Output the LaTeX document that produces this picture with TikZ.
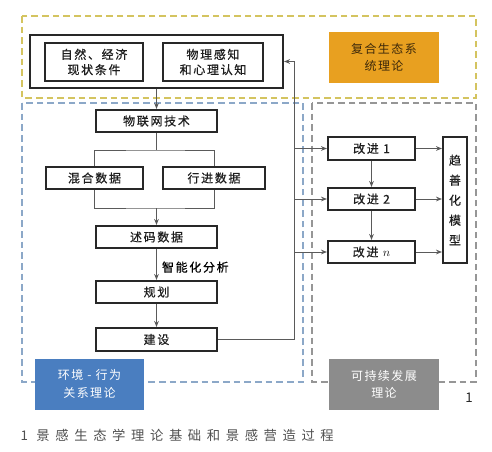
\documentclass[tikz,border=0pt]{standalone}
\usepackage{fontspec}
\setmainfont{Noto Sans CJK SC}
\usetikzlibrary{arrows.meta}

\tikzset{every picture/.style={line width=0.75pt}}
\tikzset{
  databox/.style={draw={rgb,255:red,40;green,40;blue,40}, line width=1.5pt, inner sep=0.75pt, align=center, text={rgb,255:red,30;green,30;blue,30}, font=\fontsize{9}{11.5}\selectfont\addfontfeature{LetterSpace=14,FakeBold=0.6}},
  theorybox/.style={inner sep=0.75pt, align=center, minimum width=82.5pt, minimum height=38.25pt, font=\fontsize{9}{13}\selectfont\addfontfeature{LetterSpace=12}},
  link/.style={draw={rgb,255:red,90;green,90;blue,90}, line width=0.75pt},
  linkarr/.style={link, -{Stealth[length=4.5pt,width=3.5pt]}},
  region/.style={dashed, dash pattern=on 5pt off 3pt, line width=0.9pt}
}

\begin{document}
\begin{tikzpicture}[x=0.75pt,y=0.75pt,yscale=-1,xscale=1]
\useasboundingbox (0,0) rectangle (492,451);

% Regions
\draw [region, draw={rgb,255:red,212;green,196;blue,96}] (22,16) rectangle (476,98) ;
\draw [region, draw={rgb,255:red,140;green,168;blue,200}] (22,103) rectangle (303,382) ;
\draw [region, draw={rgb,255:red,150;green,150;blue,150}] (312,103) rectangle (476,382) ;

% Theory boxes
\node [theorybox, fill={rgb,255:red,232;green,160;blue,32}, text={rgb,255:red,60;green,40;blue,10}] (eco) at (384,57.5) {复合生态系\\统理论};
\node [theorybox, fill={rgb,255:red,74;green,126;blue,192}, text=white, minimum width=81.75pt] (env) at (89.5,384) {环境 - 行为\\关系理论};
\node [theorybox, fill={rgb,255:red,140;green,140;blue,140}, text=white] (sus) at (384,384) {可持续发展\\理论};

% Top group
\node [databox, minimum width=189.75pt, minimum height=39.75pt] (outer) at (156.5,61.5) {};
\node [databox, minimum width=73.5pt, minimum height=28.5pt] (nat) at (94,62) {自然、经济\\现状条件};
\node [databox, minimum width=75pt, minimum height=28.5pt] (phy) at (213,62) {物理感知\\和心理认知};

% Process boxes
\node [databox, minimum width=90.75pt, minimum height=16.5pt] (iot) at (156.5,121) {物联网技术};
\node [databox, minimum width=72.75pt, minimum height=16.5pt] (mix) at (94.5,178) {混合数据};
\node [databox, minimum width=76.5pt, minimum height=16.5pt] (trav) at (214,178) {行进数据};
\node [databox, minimum width=90.75pt, minimum height=16.5pt] (code) at (156.5,237) {述码数据};
\node [databox, minimum width=90.75pt, minimum height=16.5pt] (plan) at (156.5,292) {规划};
\node [databox, minimum width=90.75pt, minimum height=17.25pt] (build) at (156.5,339.5) {建设};

% Improvement boxes
\node [databox, minimum width=65.25pt, minimum height=17.25pt] (imp1) at (371.5,148.5) {改进 1};
\node [databox, minimum width=65.25pt, minimum height=16.5pt] (imp2) at (371.5,199) {改进 2};
\node [databox, minimum width=65.25pt, minimum height=16.5pt] (impn) at (371.5,252) {改进 $n$};
\node [databox, minimum width=18pt, minimum height=94.5pt, font=\fontsize{9}{15}\selectfont\addfontfeature{FakeBold=0.6}] (model) at (455,200) {趋\\善\\化\\模\\型};

% Connection
\draw [linkarr] (outer.south) -- (iot.north) ;
\coordinate (split) at (156.5,150);
\coordinate (merge) at (156.5,208);
\draw [link] (iot.south) -- (split) ;
\draw [link] (mix.north) |- (split) -| (trav.north) ;
\draw [link] (mix.south) |- (merge) -| (trav.south) ;
\draw [linkarr] (merge) -- (code.north) ;
\draw [linkarr] (code.south) -- node [right, xshift=3, yshift=-2, inner sep=0.75pt, font=\fontsize{9}{11}\selectfont\addfontfeature{LetterSpace=14,FakeBold=0.6}] {智能化分析} (plan.north) ;
\draw [linkarr] (plan.south) -- (build.north) ;

% Feedback
\coordinate (bend) at (294,61.5);
\draw [linkarr] (build.east) -| (bend) -- (outer.east) ;
\draw [linkarr] (bend |- imp1.west) -- (imp1.west) ;
\draw [linkarr] (bend |- imp2.west) -- (imp2.west) ;
\draw [linkarr] (bend |- impn.west) -- (impn.west) ;
\draw [linkarr] (imp1.south) -- (imp2.north) ;
\draw [linkarr] (imp2.south) -- (impn.north) ;
\draw [linkarr] (imp1.east) -- (imp1.east -| model.west) ;
\draw [linkarr] (imp2.east) -- (imp2.east -| model.west) ;
\draw [linkarr] (impn.east) -- (impn.east -| model.west) ;

% Labels
\node [inner sep=0.75pt, font=\fontsize{10}{12}\selectfont, text={rgb,255:red,40;green,40;blue,40}] (num) at (469,398) {1};
\node [anchor=west, inner sep=0.75pt, font=\fontsize{10}{12}\selectfont\addfontfeature{LetterSpace=42}, text={rgb,255:red,80;green,80;blue,80}] (caption) at (19,435) {1 景感生态学理论基础和景感营造过程};

\end{tikzpicture}
\end{document}
